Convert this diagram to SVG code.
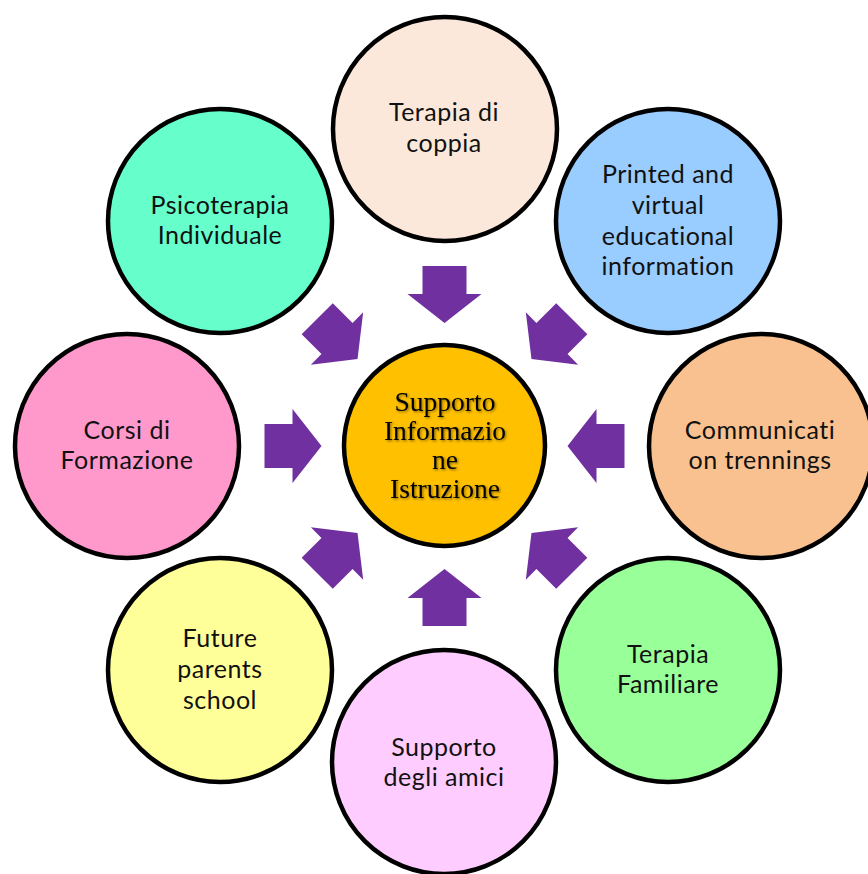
<svg xmlns="http://www.w3.org/2000/svg" width="868" height="874" viewBox="0 0 868 874">
<defs>
  <style>
    .n { stroke: #000; stroke-width: 4.5; }
    .t { font-family: Lato, "Open Sans", "Liberation Sans", sans-serif; font-size: 25px; letter-spacing: 0.5px; fill: #111; text-anchor: middle; }
    .c { font-family: "Liberation Serif", "Times New Roman", serif; font-size: 27.5px; fill: #000; text-anchor: middle; }
    .arr { fill: #7030A0; }
  </style>
  <polygon id="arrow" points="57,-22 29,-22 29,-37 0,0 29,37 29,22 57,22"/>
  <filter id="shadow" x="-10%" y="-10%" width="120%" height="130%">
    <feDropShadow dx="1.2" dy="1.2" stdDeviation="0.8" flood-color="#000" flood-opacity="0.45"/>
  </filter>
</defs>
<rect width="868" height="874" fill="#fff"/>

<g id="connectors" class="arr">
  <use href="#arrow" transform="translate(444.5,446) rotate(-90) translate(123,0)"/>
  <use href="#arrow" transform="translate(444.5,446) rotate(-45) translate(123,0)"/>
  <use href="#arrow" transform="translate(444.5,446) rotate(0) translate(123,0)"/>
  <use href="#arrow" transform="translate(444.5,446) rotate(45) translate(123,0)"/>
  <use href="#arrow" transform="translate(444.5,446) rotate(90) translate(123,0)"/>
  <use href="#arrow" transform="translate(444.5,446) rotate(135) translate(123,0)"/>
  <use href="#arrow" transform="translate(444.5,446) rotate(180) translate(123,0)"/>
  <use href="#arrow" transform="translate(444.5,446) rotate(-135) translate(123,0)"/>
</g>

<g id="node-coppia">
  <circle class="n" cx="445" cy="129" r="112" fill="#FBE8DA"/>
  <text class="t" x="444" y="121">Terapia di</text>
  <text class="t" x="444" y="152">coppia</text>
</g>

<g id="node-printed">
  <circle class="n" cx="668" cy="221" r="112" fill="#99CCFF"/>
  <text class="t" x="668" y="183">Printed and</text>
  <text class="t" x="668" y="213.5">virtual</text>
  <text class="t" x="668" y="244.5">educational</text>
  <text class="t" x="668" y="275">information</text>
</g>

<g id="node-psico">
  <circle class="n" cx="220" cy="221" r="112" fill="#66FFCC"/>
  <text class="t" x="220" y="213.5">Psicoterapia</text>
  <text class="t" x="220" y="244">Individuale</text>
</g>

<g id="node-corsi">
  <circle class="n" cx="127" cy="446" r="112" fill="#FF99CC"/>
  <text class="t" x="127" y="438.5">Corsi di</text>
  <text class="t" x="127" y="468.5">Formazione</text>
</g>

<g id="node-communication">
  <circle class="n" cx="761" cy="446" r="112" fill="#F9C18F"/>
  <text class="t" x="760" y="438.5">Communicati</text>
  <text class="t" x="760" y="468.5">on trennings</text>
</g>

<g id="node-future">
  <circle class="n" cx="220" cy="670" r="112" fill="#FFFF99"/>
  <text class="t" x="220" y="647">Future</text>
  <text class="t" x="220" y="678">parents</text>
  <text class="t" x="220" y="708.5">school</text>
</g>

<g id="node-amici">
  <circle class="n" cx="444" cy="762" r="112" fill="#FFCCFF"/>
  <text class="t" x="444" y="756">Supporto</text>
  <text class="t" x="444" y="786">degli amici</text>
</g>

<g id="node-familiare">
  <circle class="n" cx="668" cy="670" r="112" fill="#99FF99"/>
  <text class="t" x="668" y="663">Terapia</text>
  <text class="t" x="668" y="693">Familiare</text>
</g>

<g id="node-center">
  <circle class="n" cx="444.5" cy="445.5" r="100.5" fill="#FFC000"/>
  <g filter="url(#shadow)">
    <text class="c" x="445" y="411">Supporto</text>
    <text class="c" x="445" y="439.5">Informazio</text>
    <text class="c" x="445" y="468.5">ne</text>
    <text class="c" x="445" y="497.5">Istruzione</text>
  </g>
</g>
</svg>
